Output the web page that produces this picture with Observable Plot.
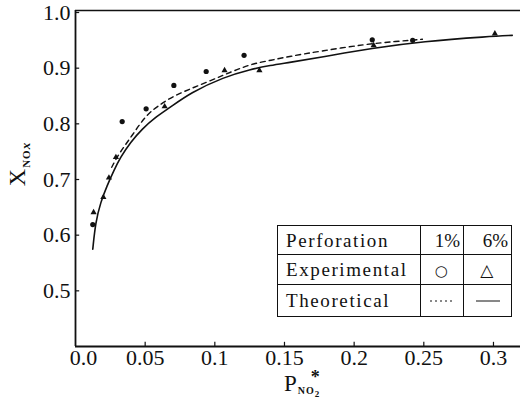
<!DOCTYPE html>
<html>
<head>
<meta charset="utf-8">
<script src="https://cdn.jsdelivr.net/npm/d3@7"></script>
<script src="https://cdn.jsdelivr.net/npm/@observablehq/plot@0.6"></script>
<style>
  html, body { margin: 0; padding: 0; background: #fff; }
  #wrap { position: relative; width: 520px; height: 399px; font-family: "Liberation Serif", "Times New Roman", serif; color: #111; }
  #chart svg text { font-family: "Liberation Serif", "Times New Roman", serif; }
  #legend { position: absolute; left: 277px; top: 225px; border-collapse: collapse; font-family: "Liberation Serif", "Times New Roman", serif; font-size: 19px; letter-spacing: 1.6px; background: #fff; }
  #legend td { border: 1.5px solid #111; padding: 0 4px; line-height: 1; }
  #ylab { position: absolute; left: 17px; top: 164px; transform: translate(-50%, -50%) rotate(-90deg); white-space: nowrap; }
  #xlab { position: absolute; left: 284px; top: 371px; white-space: nowrap; }
</style>
</head>
<body>
<div id="wrap">
  <div id="chart"></div>
  <table id="legend"></table>
  <div id="ylab"><span style="font-size:24px">X</span><span style="font-size:11px; letter-spacing:1px; position:relative; top:5px; margin-left:1px; font-weight:bold">NO<i style="font-size:13px">x</i></span></div>
  <div id="xlab"><span style="font-size:23px">P</span><span style="display:inline-block; position:relative; width:28px; height:20px; vertical-align:top"><span style="position:absolute; left:14px; top:-4px; font-size:18px; font-weight:bold">*</span><span style="position:absolute; left:1px; top:14px; font-size:10px; letter-spacing:1px; font-weight:bold">NO<span style="font-size:9px; position:relative; top:3px">2</span></span></span></div>
</div>
<script>
// Axis ticks
const xTicks = [0, 0.05, 0.1, 0.15, 0.2, 0.25, 0.3];
const xTickLabels = ["0.0", "0.05", "0.1", "0.15", "0.2", "0.25", "0.3"];
const yTicks = [0.5, 0.6, 0.7, 0.8, 0.9, 1.0];
const yTickLabels = ["0.5", "0.6", "0.7", "0.8", "0.9", "1.0"];

// Theoretical curves
const solidX = [0.0124, 0.0144, 0.018, 0.0227, 0.0275, 0.0323, 0.0395, 0.0479, 0.0574, 0.0682, 0.0826, 0.1065, 0.1256, 0.140, 0.153, 0.177, 0.213, 0.249, 0.297, 0.3135];
const solidY = [0.575, 0.623, 0.659, 0.689, 0.716, 0.740, 0.767, 0.791, 0.812, 0.830, 0.856, 0.884, 0.898, 0.905, 0.910, 0.920, 0.936, 0.948, 0.957, 0.959];
const dashX = [0.026, 0.031, 0.0407, 0.0503, 0.0598, 0.0706, 0.0945, 0.118, 0.129, 0.140, 0.153, 0.177, 0.208, 0.230, 0.249];
const dashY = [0.722, 0.746, 0.779, 0.815, 0.833, 0.851, 0.875, 0.900, 0.909, 0.914, 0.921, 0.931, 0.943, 0.948, 0.952];

// Experimental points
const circX = [0.0124, 0.0335, 0.0507, 0.0706, 0.0938, 0.121, 0.213, 0.242];
const circY = [0.619, 0.804, 0.827, 0.869, 0.894, 0.923, 0.951, 0.950];
const triX = [0.013, 0.020, 0.024, 0.029, 0.064, 0.107, 0.132, 0.214, 0.301];
const triY = [0.641, 0.668, 0.703, 0.740, 0.831, 0.896, 0.896, 0.941, 0.962];

const xDomain = [0, 0.3194];
const yDomain = [0.4, 1.0036];

const solid = solidX.map((x, i) => ({x, y: solidY[i]}));
const dashed = dashX.map((x, i) => ({x, y: dashY[i]}));
const circ = circX.map((x, i) => ({x, y: circY[i]}));
const tri = triX.map((x, i) => ({x, y: triY[i]}));

const ink = "#111";
const plot = Plot.plot({
  width: 520,
  height: 399,
  marginLeft: 75,
  marginRight: 0,
  marginTop: 10,
  marginBottom: 53,
  style: {fontFamily: "Liberation Serif, Times New Roman, serif", fontSize: "22px", color: ink, background: "transparent"},
  x: {domain: xDomain, axis: null},
  y: {domain: yDomain, axis: null},
  marks: [
    Plot.ruleY([yDomain[1]], {stroke: ink, strokeWidth: 1.6}),
    Plot.ruleY([yDomain[0]], {stroke: ink, strokeWidth: 1.8}),
    Plot.ruleX([xDomain[0]], {stroke: ink, strokeWidth: 1.8}),
    Plot.ruleX(xTicks.slice(1), {x: d => d, y1: yDomain[0], y2: yDomain[0] + 0.0075, stroke: ink, strokeWidth: 1.2}),
    Plot.ruleY(yTicks, {y: d => d, x1: xDomain[0], x2: xDomain[0] + 0.003, stroke: ink, strokeWidth: 1.2}),
    Plot.text(xTicks.slice(1), {x: d => d, frameAnchor: "bottom", lineAnchor: "top", dy: 3, text: (d, i) => xTickLabels[i + 1], fill: ink}),
    Plot.text([xTicks[0]], {x: d => d, frameAnchor: "bottom", lineAnchor: "top", dy: 3, dx: 8, text: () => xTickLabels[0], fill: ink}),
    Plot.text(yTicks, {y: d => d, frameAnchor: "left", textAnchor: "end", dx: -5, text: (d, i) => yTickLabels[i], fill: ink}),
    Plot.line(solid, {x: "x", y: "y", curve: "basis", stroke: ink, strokeWidth: 1.6}),
    Plot.line(dashed, {x: "x", y: "y", curve: "basis", stroke: ink, strokeWidth: 1.4, strokeDasharray: "5,4"}),
    Plot.dot(circ, {x: "x", y: "y", r: 2.6, fill: ink, stroke: "none"}),
    Plot.dot(tri, {x: "x", y: "y", r: 2.3, symbol: "triangle", fill: ink, stroke: "none"})
  ]
});
document.getElementById("chart").appendChild(plot);

// Legend table
const legendRows = [
  ["Perforation", "1%", "6%"],
  ["Experimental", "○", "△"],
  ["Theoretical", "", ""]
];
const table = document.getElementById("legend");
const widths = [139, 43, 48];
const heights = [30, 31, 33];
legendRows.forEach((row, r) => {
  const tr = document.createElement("tr");
  row.forEach((cell, c) => {
    const td = document.createElement("td");
    td.style.width = (widths[c] - 9) + "px";
    td.style.height = (heights[r] - 2) + "px";
    td.style.textAlign = c === 0 ? "left" : "center";
    if (c === 0) td.style.paddingLeft = "8px";
    if (r === 2 && c > 0) {
      const svg = `<svg width="28" height="6" style="display:block;margin:auto"><line x1="2" x2="26" y1="3" y2="3" stroke="#111" stroke-width="1" ${c === 1 ? 'stroke-dasharray="2,3"' : ''}/></svg>`;
      td.innerHTML = svg;
    } else if (r === 1 && c > 0) {
      td.innerHTML = `<span style="font-size:${c === 1 ? 15 : 17}px; font-family:'DejaVu Sans'">${cell}</span>`;
    } else {
      td.textContent = cell;
      if (c > 0) { td.style.letterSpacing = "0px"; td.style.textAlign = "right"; td.style.paddingRight = "3px"; }
    }
    tr.appendChild(td);
  });
  table.appendChild(tr);
});
</script>
</body>
</html>
